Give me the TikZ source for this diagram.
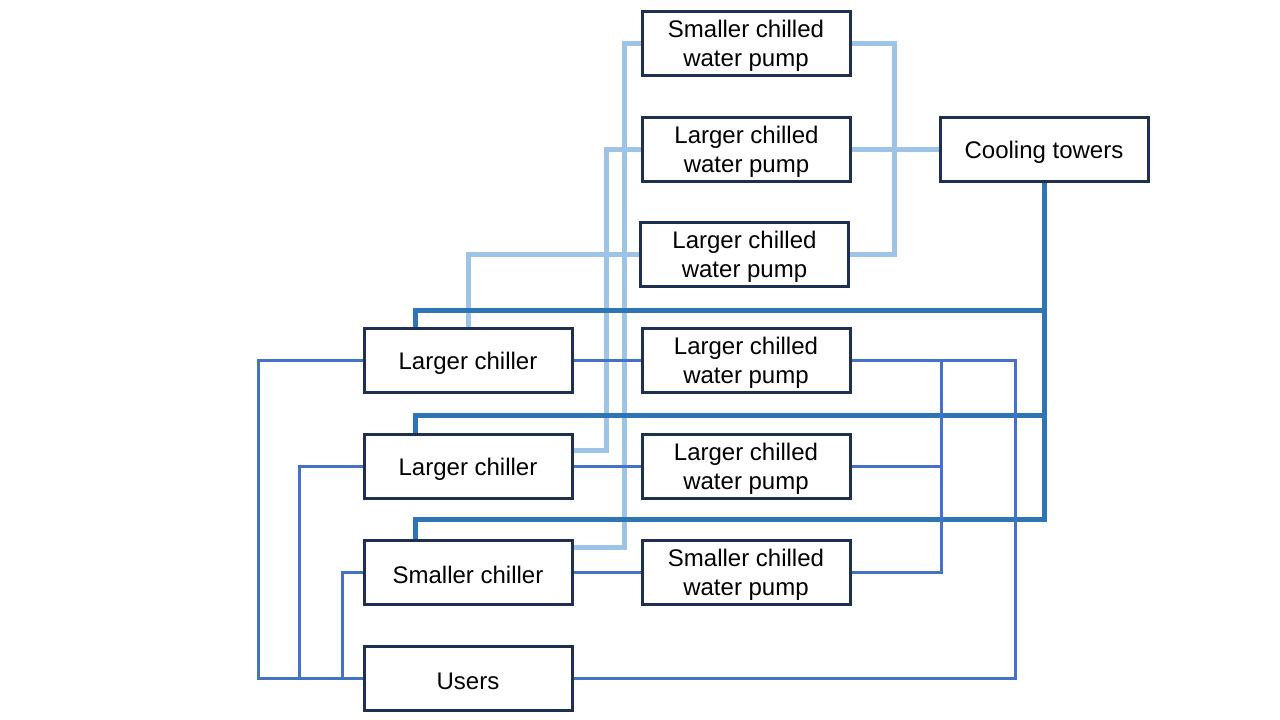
\documentclass[tikz,border=0pt]{standalone}
\usepackage{fontspec}
\setmainfont{Liberation Sans}
\definecolor{boxc}{HTML}{1F2F4F}
\definecolor{lbc}{HTML}{9DC3E6}
\definecolor{dbc}{HTML}{2E75B6}
\definecolor{mbc}{HTML}{4472C4}
\newcommand\toprule{\rule{0pt}{16.5pt}}
\begin{document}
\begin{tikzpicture}[x=0.75pt,y=-0.75pt,
  box/.style={draw=boxc,line width=2.25pt,fill=white,minimum width=156pt,minimum height=48pt,inner sep=0pt,align=center,font=\fontsize{18}{22}\selectfont},
  lb/.style={draw=lbc,line width=3.75pt},
  db/.style={draw=dbc,line width=3.75pt},
  mb/.style={draw=mbc,line width=2.25pt}]
\useasboundingbox (0,0) rectangle (1280,720);
\node[box] (SP1) at (746,43.5) {\toprule Smaller chilled\\water pump};
\node[box] (LP2) at (746.5,149.5) {\toprule Larger chilled\\water pump};
\node[box] (LP3) at (744.5,254.5) {\toprule Larger chilled\\water pump};
\node[box] (CT) at (1044,149.5) {\toprule Cooling towers};
\node[box] (LC1) at (468,360.5) {\toprule Larger chiller};
\node[box] (LP4) at (746,360.5) {\toprule Larger chilled\\water pump};
\node[box] (LC2) at (468,466.5) {\toprule Larger chiller};
\node[box] (LP5) at (746,466.5) {\toprule Larger chilled\\water pump};
\node[box] (SC) at (468,572.5) {\toprule Smaller chiller};
\node[box] (SP6) at (746,572.5) {\toprule Smaller chilled\\water pump};
\node[box] (US) at (468,678.5) {\toprule Users};
% condenser water (light blue)
\draw[lb] (SP1.west) -| (624,547) -- (SC.east |- 624,547);
\draw[lb] (LP2.west) -| (606,450) -- (LC2.east |- 606,450);
\draw[lb] (LP3.west) -| (LC1.north);
\draw[lb] (SP1.east) -| (894,150) |- (LP3.east);
\draw[lb] (LP2.east) -- (CT.west);
% cooling tower supply (dark blue)
\draw[db] (CT.south) |- (415,519) -- (SC.north -| 415,0);
\draw[db] (1044,310) -- (415,310) -- (LC1.north -| 415,0);
\draw[db] (1044,415) -- (415,415) -- (LC2.north -| 415,0);
% chilled water (medium blue)
\draw[mb] (LC1.east) -- (LP4.west);
\draw[mb] (LC2.east) -- (LP5.west);
\draw[mb] (SC.east) -- (SP6.west);
\draw[mb] (LP4.east) -| (1015,500) |- (US.east);
\draw[mb] (SP6.east) -| (941,470) |- (LP4.east);
\draw[mb] (LP5.east) -- (LP5.east -| 941,0);
\draw[mb] (LC1.west) -| (258,600) |- (US.west);
\draw[mb] (LC2.west) -| (299,600) |- (US.west);
\draw[mb] (SC.west) -| (342,650) |- (US.west);
\end{tikzpicture}
\end{document}
